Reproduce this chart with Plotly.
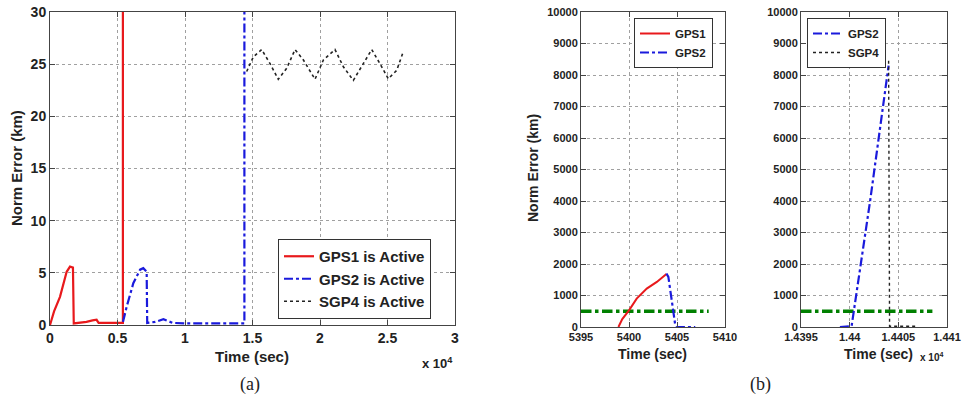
import plotly.graph_objects as go

# ---------------- data ----------------
# Panel (a): full time span, seconds
a_gps1_t = [0, 300, 740, 1000, 1235, 1480, 1700, 1760, 2200, 2700, 3150, 3450, 3600, 4000, 4500, 5000, 5399, 5404]
a_gps1_v = [0, 1.3, 2.7, 4.0, 5.1, 5.6, 5.5, 0.15, 0.2, 0.3, 0.45, 0.5, 0.2, 0.2, 0.2, 0.2, 0.2, 1680]

a_gps2_t = [5405, 5680, 6170, 6670, 6910, 7160, 7200, 7800, 8400, 9100, 10000, 11000, 12000, 13000, 14000, 14399, 14404]
a_gps2_v = [0.3, 1.75, 4.0, 5.3, 5.45, 5.1, 0.2, 0.3, 0.55, 0.2, 0.15, 0.15, 0.15, 0.15, 0.15, 0.15, 8300]

a_sgp4_t = [14570, 15060, 15680, 16300, 16910, 17530, 18150, 18770, 19630, 20250, 21110, 21730, 22470, 23210, 23830, 24440, 25060, 25680, 26170]
a_sgp4_v = [24.3, 25.7, 26.4, 25.05, 23.55, 24.6, 26.4, 25.4, 23.55, 25.4, 26.4, 24.75, 23.45, 25.05, 26.4, 25.05, 23.6, 24.4, 26.2]

# Panel (b) left: around GPS1 -> GPS2 switch
b1_gps1_t = [5398.9, 5399.3, 5400.0, 5400.8, 5401.85, 5402.9, 5403.9]
b1_gps1_v = [0, 250, 530, 900, 1220, 1430, 1680]
b1_gps2_t = [5403.9, 5404.1, 5404.45, 5404.8, 5405.0, 5406.9]
b1_gps2_v = [1700, 1590, 850, 100, 0, 0]
b1_thr_t = [5395, 5408.3]
b1_thr_v = [500, 500]

# Panel (b) right: around GPS2 -> SGP4 switch
b2_gps2_t = [14399.0, 14400.2, 14402.1, 14404.0]
b2_gps2_v = [0, 30, 4000, 8300]
b2_sgp4_t = [14404.0, 14404.1, 14407.0]
b2_sgp4_v = [8450, 24, 24]
b2_thr_t = [14395, 14408.5]
b2_thr_v = [500, 500]

a_xticks = [0, 5000, 10000, 15000, 20000, 25000, 30000]
a_xtext = ["0", "0.5", "1", "1.5", "2", "2.5", "3"]
a_yticks = [0, 5, 10, 15, 20, 25, 30]
a_ytext = ["0", "5", "10", "15", "20", "25", "30"]
b1_xticks = [5395, 5400, 5405, 5410]
b1_xtext = ["5395", "5400", "5405", "5410"]
b2_xticks = [14395, 14400, 14405, 14410]
b2_xtext = ["1.4395", "1.44", "1.4405", "1.441"]
b_yticks = [0, 1000, 2000, 3000, 4000, 5000, 6000, 7000, 8000, 9000, 10000]
b_ytext = ["0", "1000", "2000", "3000", "4000", "5000", "6000", "7000", "8000", "9000", "10000"]

# ---------------- figure ----------------
W, H = 968, 405
FONT = "Liberation Sans"
RED = "#e8191c"
BLUE = "#1a1adc"
GREEN = "#008000"

fig = go.Figure()

# panel a
fig.add_trace(go.Scatter(x=a_gps1_t, y=a_gps1_v, mode="lines", name="GPS1 is Active",
                         line=dict(color=RED, width=2.2), xaxis="x", yaxis="y", legend="legend"))
fig.add_trace(go.Scatter(x=a_gps2_t, y=a_gps2_v, mode="lines", name="GPS2 is Active",
                         line=dict(color=BLUE, width=2.2, dash="dashdot"), xaxis="x", yaxis="y", legend="legend"))
fig.add_trace(go.Scatter(x=a_sgp4_t, y=a_sgp4_v, mode="lines", name="SGP4 is Active",
                         line=dict(color="#222", width=1.6, dash="dot"), xaxis="x", yaxis="y", legend="legend"))

# panel b1
fig.add_trace(go.Scatter(x=b1_thr_t, y=b1_thr_v, mode="lines", showlegend=False,
                         line=dict(color=GREEN, width=3.5, dash="dashdot"), xaxis="x2", yaxis="y2"))
fig.add_trace(go.Scatter(x=b1_gps1_t, y=b1_gps1_v, mode="lines", name="GPS1",
                         line=dict(color=RED, width=2), xaxis="x2", yaxis="y2", legend="legend2"))
fig.add_trace(go.Scatter(x=b1_gps2_t, y=b1_gps2_v, mode="lines", name="GPS2",
                         line=dict(color=BLUE, width=2.2, dash="dashdot"), xaxis="x2", yaxis="y2", legend="legend2"))

# panel b2
fig.add_trace(go.Scatter(x=b2_thr_t, y=b2_thr_v, mode="lines", showlegend=False,
                         line=dict(color=GREEN, width=3.5, dash="dashdot"), xaxis="x3", yaxis="y3"))
fig.add_trace(go.Scatter(x=b2_gps2_t, y=b2_gps2_v, mode="lines", name="GPS2",
                         line=dict(color=BLUE, width=2.2, dash="dashdot"), xaxis="x3", yaxis="y3", legend="legend3"))
fig.add_trace(go.Scatter(x=b2_sgp4_t, y=b2_sgp4_v, mode="lines", name="SGP4",
                         line=dict(color="#222", width=1.4, dash="dot"), xaxis="x3", yaxis="y3", legend="legend3"))


def px(x):
    return x / W


def py(y):
    return 1 - y / H


def axis(domain, rng, tickvals, ticktext, anchor, fs):
    return dict(domain=domain, range=rng, tickvals=tickvals, ticktext=ticktext, anchor=anchor,
                automargin=False,
                showline=True, mirror="ticks", linecolor="#444", linewidth=1,
                ticks="inside", ticklen=5, tickcolor="#444",
                showgrid=True, gridcolor="#a0a0a0", griddash="dot", gridwidth=1,
                zeroline=False, fixedrange=True,
                tickfont=dict(family=FONT, size=fs, color="#222", weight="bold"))


fig.update_layout(
    width=W, height=H,
    margin=dict(l=0, r=0, t=0, b=0, autoexpand=False),
    paper_bgcolor="white", plot_bgcolor="white",
    font=dict(family=FONT, color="#222"),
    xaxis=axis([px(50), px(455)], [0, 30000], a_xticks, a_xtext, "y", 14),
    yaxis=axis([py(325), py(12)], [0, 30], a_yticks, a_ytext, "x", 14),
    xaxis2=axis([px(581), px(725)], [5395, 5410], b1_xticks, b1_xtext, "y2", 11),
    yaxis2=axis([py(327), py(12)], [0, 10000], b_yticks, b_ytext, "x2", 11),
    xaxis3=axis([px(801), px(947)], [14395, 14410], b2_xticks, b2_xtext, "y3", 11),
    yaxis3=axis([py(327), py(12)], [0, 10000], b_yticks, b_ytext, "x3", 11),
    legend=dict(x=px(278), y=py(239), xanchor="left", yanchor="top",
                bgcolor="white", bordercolor="#333", borderwidth=1,
                font=dict(family=FONT, size=15, color="#222", weight="bold"),
                tracegroupgap=0),
    legend2=dict(x=px(634), y=py(18), xanchor="left", yanchor="top",
                 bgcolor="white", bordercolor="#333", borderwidth=1,
                 font=dict(family=FONT, size=11.5, color="#222", weight="bold")),
    legend3=dict(x=px(807), y=py(18), xanchor="left", yanchor="top",
                 bgcolor="white", bordercolor="#333", borderwidth=1,
                 font=dict(family=FONT, size=11.5, color="#222", weight="bold")),
    showlegend=True,
)


def ann(text, x, y, size, angle=0, family=FONT, bold=True, xanchor="center"):
    fig.add_annotation(text=text, x=px(x), y=py(y), xref="paper", yref="paper",
                       showarrow=False, textangle=angle, xanchor=xanchor, yanchor="middle",
                       font=dict(family=family, size=size, color="#222",
                                 weight="bold" if bold else "normal"))


ann("Norm Error (km)", 17, 168, 15, angle=-90)
ann("Time (sec)", 252, 356, 15)
ann("x 10<sup>4</sup>", 437, 363, 13)
ann("Norm Error (km)", 533, 168, 14, angle=-90)
ann("Time (sec)", 652, 354, 14)
ann("Time (sec)", 878, 354, 14)
ann("x 10<sup>4</sup>", 931, 357, 10)
ann("(a)", 250, 384, 18, family="Liberation Serif", bold=False)
ann("(b)", 760, 384, 18, family="Liberation Serif", bold=False)

fig.write_html("out.html")
